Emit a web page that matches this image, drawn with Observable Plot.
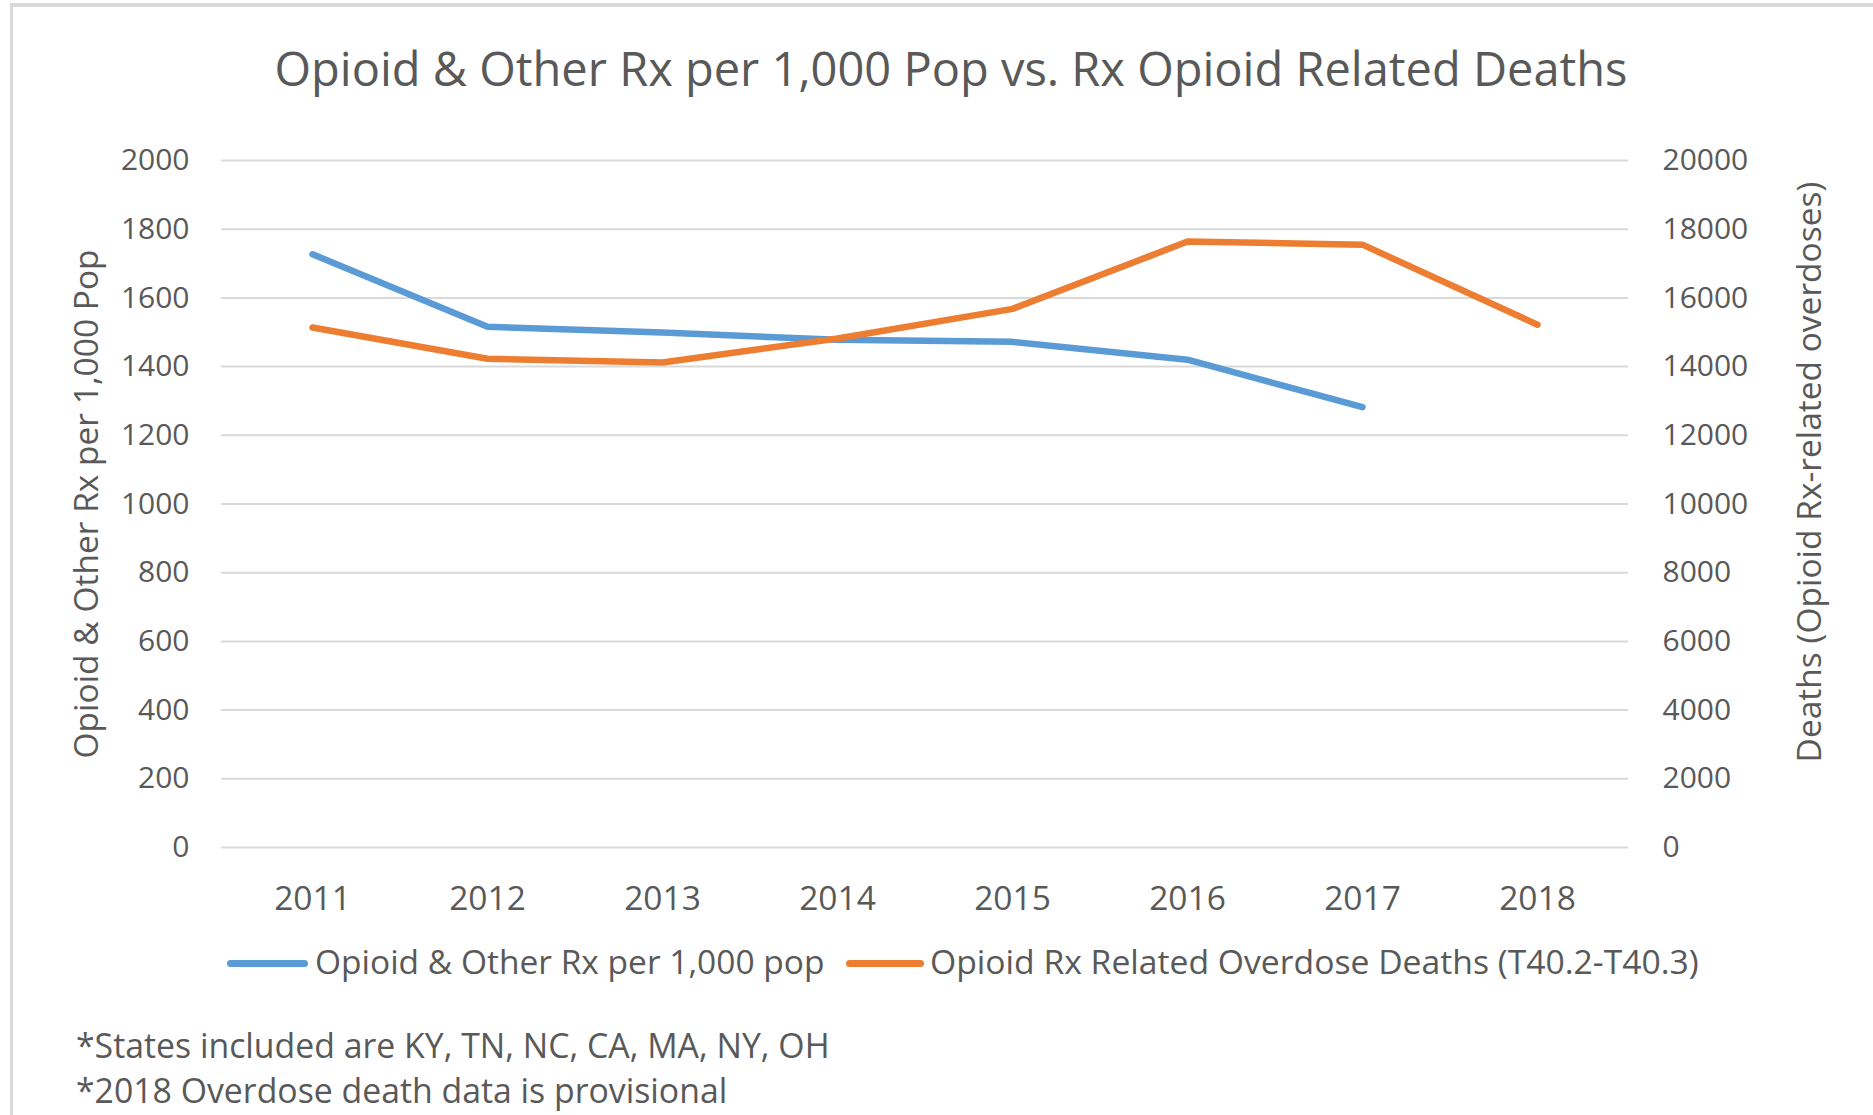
<!DOCTYPE html>
<html>
<head>
<meta charset="utf-8">
<script src="https://cdn.jsdelivr.net/npm/d3@7"></script>
<script src="https://cdn.jsdelivr.net/npm/@observablehq/plot@0.6"></script>
<style>
  body { margin: 0; background: #fff; font-family: "Open Sans", sans-serif; color: #595959; }
  #page { position: relative; width: 1873px; height: 1115px; overflow: hidden; background: #fff; }
  #frame { position: absolute; left: 10px; top: 3px; width: 2000px; height: 1300px;
           border-top: 4px solid #D9D9D9; border-left: 3px solid #D9D9D9; box-sizing: border-box; }
  .t { position: absolute; white-space: nowrap; line-height: 1; color: #595959; }
  #chart { position: absolute; left: 0; top: 110px; }
  .sw { position: absolute; height: 7px; border-radius: 4px; }
</style>
</head>
<body>
<div id="page">
  <div id="frame"></div>
  <div class="t" id="title" style="font-size:47px; left:951px; top:44.5px; transform:translateX(-50%);"></div>
  <div id="chart"></div>
  <div id="legend"></div>
  <div id="notes"></div>
</div>
<script>
// ---- data ----
const years = ["2011", "2012", "2013", "2014", "2015", "2016", "2017", "2018"];
const rxPer1000 = [1727, 1516, 1499, 1478, 1472, 1420, 1282, null];
const overdoseDeaths = [15140, 14230, 14120, 14820, 15680, 17640, 17550, 15220];
const leftTicks = [0, 200, 400, 600, 800, 1000, 1200, 1400, 1600, 1800, 2000];
const rightTicks = [0, 2000, 4000, 6000, 8000, 10000, 12000, 14000, 16000, 18000, 20000];
const seriesNames = ["Opioid & Other Rx per 1,000 pop", "Opioid Rx Related Overdose Deaths (T40.2-T40.3)"];
const titleText = "Opioid & Other Rx per 1,000 Pop vs. Rx Opioid Related Deaths";
const leftAxisTitle = "Opioid & Other Rx per 1,000 Pop";
const rightAxisTitle = "Deaths (Opioid Rx-related overdoses)";
const footnotes = ["*States included are KY, TN, NC, CA, MA, NY, OH", "*2018 Overdose death data is provisional"];
const colors = ["#5B9BD5", "#ED7D31"];

// ---- derived tables ----
const ratio = rightTicks[rightTicks.length - 1] / leftTicks[leftTicks.length - 1];
const rxData = years.map((y, i) => ({year: y, value: rxPer1000[i]})).filter(d => d.value != null);
const deathData = years.map((y, i) => ({year: y, value: overdoseDeaths[i]}));

document.getElementById("title").textContent = titleText;

const lineStyle = {strokeWidth: 6.5, strokeLinecap: "round", strokeLinejoin: "round"};

const chart = Plot.plot({
  width: 1873,
  height: 830,
  marginLeft: 221,
  marginRight: 245,
  marginTop: 50,
  marginBottom: 93,
  style: {fontFamily: "Open Sans", color: "#595959", background: "transparent", overflow: "visible"},
  x: {type: "point", domain: years, padding: 0.5},
  y: {domain: [0, 2000]},
  marks: [
    Plot.gridY(leftTicks, {stroke: "#D9D9D9", strokeOpacity: 1, strokeWidth: 2}),
    Plot.axisX({tickSize: 0, tickPadding: 39, fontSize: 33.5, label: null}),
    Plot.axisY(leftTicks, {anchor: "left", tickSize: 0, tickPadding: 32, fontSize: 30, label: null,
      tickFormat: d => String(d)}),
    Plot.axisY(rightTicks.map(v => v / ratio), {anchor: "right", tickSize: 0, tickPadding: 34, fontSize: 30,
      label: null, tickFormat: d => String(Math.round(d * ratio))}),
    Plot.line(rxData, {x: "year", y: "value", stroke: colors[0], ...lineStyle}),
    Plot.line(deathData, {x: "year", y: d => d.value / ratio, stroke: colors[1], ...lineStyle}),
    Plot.text([leftAxisTitle], {frameAnchor: "left", text: d => d, rotate: -90, dx: -134.7, fontSize: 33.5,
      lineAnchor: "middle", textAnchor: "middle", fill: "#595959"}),
    Plot.text([rightAxisTitle], {frameAnchor: "right", text: d => d, rotate: -90, dx: 181.3, dy: -32, fontSize: 33.5,
      lineAnchor: "middle", textAnchor: "middle", fill: "#595959"})
  ]
});
document.getElementById("chart").appendChild(chart);

// ---- legend ----
const legend = document.getElementById("legend");
const legendItems = [
  {sx: 227, sw: 81, tx: 315},
  {sx: 846, sw: 78, tx: 930}
];
seriesNames.forEach((name, i) => {
  const s = document.createElement("div");
  s.className = "sw";
  s.style.left = legendItems[i].sx + "px";
  s.style.width = legendItems[i].sw + "px";
  s.style.top = (963 - 3.5) + "px";
  s.style.background = colors[i];
  legend.appendChild(s);
  const t = document.createElement("div");
  t.className = "t";
  t.style.fontSize = i === 1 ? "33.7px" : "33.5px";
  t.style.left = legendItems[i].tx + "px";
  t.style.top = "944.5px";
  t.textContent = name;
  legend.appendChild(t);
});

// ---- footnotes ----
const notes = document.getElementById("notes");
footnotes.forEach((txt, i) => {
  const t = document.createElement("div");
  t.className = "t";
  t.style.fontSize = "33.8px";
  t.style.left = "76px";
  t.style.top = (1028.5 + i * 45) + "px";
  t.textContent = txt;
  notes.appendChild(t);
});
</script>
</body>
</html>
